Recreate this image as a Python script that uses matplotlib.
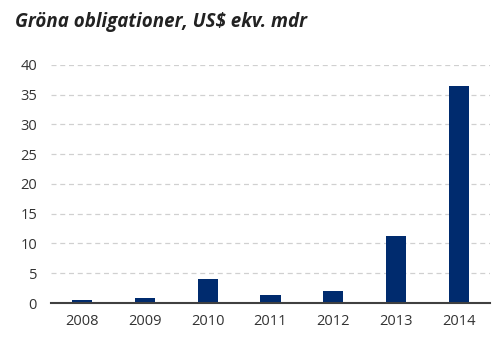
import matplotlib
matplotlib.use("Agg")
import matplotlib.pyplot as plt

years = ["2008", "2009", "2010", "2011", "2012", "2013", "2014"]
values = [0.5, 0.8, 4.0, 1.3, 2.1, 11.2, 36.4]
yticks = [0, 5, 10, 15, 20, 25, 30, 35, 40]

plt.rcParams['font.family'] = ['Open Sans', 'DejaVu Sans']

fig = plt.figure(figsize=(5, 3.46), dpi=100)
ax = fig.add_axes([0.102, 0.124, 0.878, 0.689])

x = range(len(years))
ax.bar(x, values, width=0.32, color='#002b6e', zorder=3)

ax.set_xlim(-0.5, len(years) - 0.5)
ax.set_ylim(0, 40)
ax.set_yticks(yticks)
ax.set_xticks(list(x))
ax.set_xticklabels(years)

ax.yaxis.grid(True, linestyle=(0, (4, 3)), color='#d0d0d0', linewidth=0.9, zorder=0)
for s in ['top', 'right', 'left']:
    ax.spines[s].set_visible(False)
ax.spines['bottom'].set_color('#404040')
ax.spines['bottom'].set_linewidth(1.5)
ax.spines['bottom'].set_zorder(4)
ax.tick_params(axis='both', length=0, labelsize=10.5, colors='#333333', pad=8)
ax.tick_params(axis='y', pad=10)

fig.text(0.03, 0.935, "Gröna obligationer, US$ ekv. mdr", fontsize=13.5,
         fontweight='bold', fontstyle='italic', color='#222222', va='center')

fig.savefig("out.png", dpi=100)
